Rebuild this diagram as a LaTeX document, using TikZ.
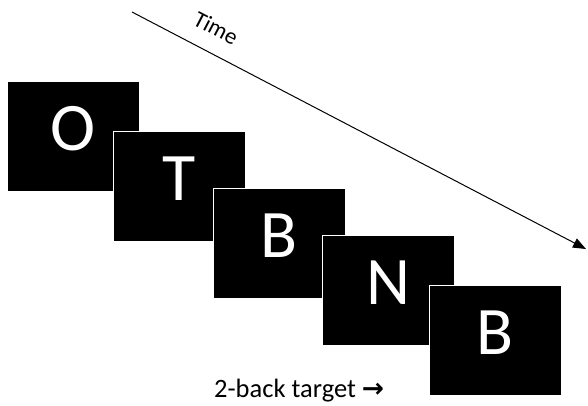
\documentclass[tikz,border=0pt]{standalone}
\usepackage{fontspec}
\setmainfont{Carlito}
\newfontfamily\arrowfont{DejaVu Sans}
\usetikzlibrary{arrows.meta,positioning}

\begin{document}
\begin{tikzpicture}[x=1pt, y=-1pt,
    card/.style={rectangle, fill=black, draw=white, line width=0.8pt,
                 minimum width=132pt, minimum height=110pt, inner sep=0pt, outer sep=0pt,
                 text=white, text height=44pt, text depth=16pt,
                 font=\fontsize{68}{68}\selectfont},
    arr/.style={-{Triangle[length=13pt,width=10pt]}, line width=1pt}
]
\useasboundingbox (0,0) rectangle (588,405);

% letter stream, each card slipped under the next
\node[card] (o) at (73,136) {O};
\node[card, below right=-60pt and -26pt of o] (t)  {T};
\node[card, below right=-53pt and -32pt of t] (b1) {B};
\node[card, below right=-63pt and -23pt of b1] (n) {N};
\node[card, below right=-60pt and -25pt of n] (b2) {B};

% time axis
\coordinate (t0) at (132,12);
\coordinate (t1) at (586,249);
\draw[arr] (t0) -- (t1)
    node[pos=0.16, sloped, above=13pt, font=\fontsize{23}{23}\selectfont] (time) {Time};

\node[anchor=base west, inner sep=0pt, font=\fontsize{26.5}{26.5}\selectfont] (target)
    at (214,397) {2-back target {\arrowfont\bfseries →}};
\end{tikzpicture}
\end{document}
